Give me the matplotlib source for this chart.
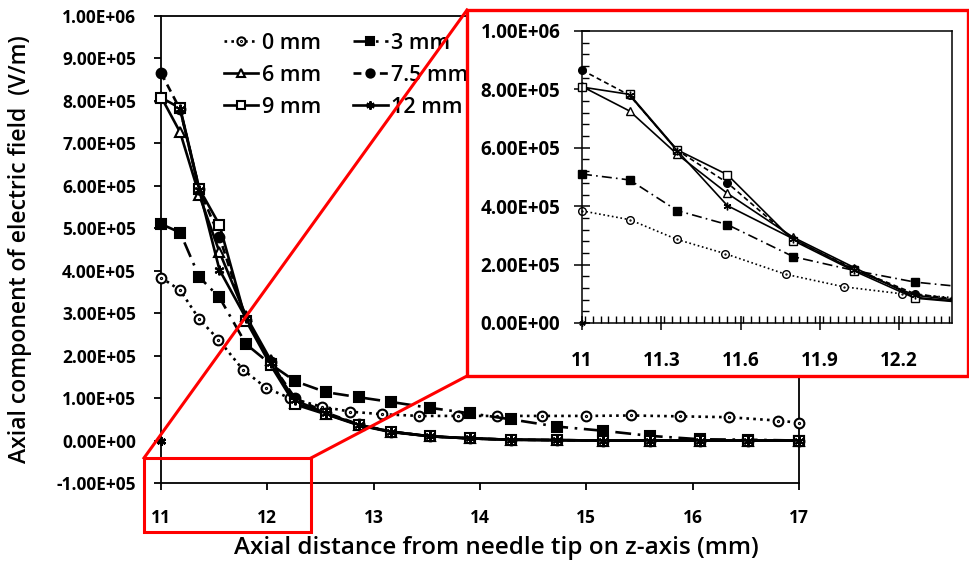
import numpy as np
import matplotlib.pyplot as plt
from matplotlib.path import Path
from matplotlib.patches import Rectangle
from matplotlib.lines import Line2D
from matplotlib.ticker import FuncFormatter, MultipleLocator

plt.rcParams['font.family'] = ['Open Sans', 'DejaVu Sans']
plt.rcParams['font.weight'] = 'bold'

# axial positions (mm); the 0 mm series was sampled at slightly different z
z_0mm = [11.0, 11.18, 11.36, 11.54, 11.77, 11.99, 12.21, 12.51, 12.78, 13.08,
         13.43, 13.79, 14.16, 14.58, 15.0, 15.42, 15.88, 16.34, 16.80, 17.0]
z = [11.0, 11.18, 11.36, 11.55, 11.8, 12.03, 12.26, 12.55, 12.86, 13.16,
     13.53, 13.91, 14.29, 14.72, 15.16, 15.6, 16.07, 16.52, 17.0]

# axial field (V/m)
e_0mm = np.array([3.84, 3.54, 2.86, 2.38, 1.67, 1.24, 1.00, 0.80, 0.68, 0.62,
                  0.58, 0.58, 0.58, 0.58, 0.58, 0.59, 0.57, 0.55, 0.47, 0.42]) * 1e5
e_3mm = np.array([5.10, 4.90, 3.85, 3.37, 2.27, 1.80, 1.40, 1.14, 1.02, 0.91,
                  0.77, 0.64, 0.50, 0.33, 0.23, 0.11, 0.03, 0.02, 0.0]) * 1e5
e_6mm = np.array([8.10, 7.26, 5.78, 4.44, 2.93, 1.90, 0.88, 0.63, 0.37, 0.21,
                  0.10, 0.05, 0.02, 0.01, 0.0, 0.0, 0.0, 0.0, 0.0]) * 1e5
e_7p5mm = np.array([8.66, 7.80, 5.92, 4.80, 2.85, 1.85, 1.00, 0.66, 0.38, 0.21,
                    0.10, 0.05, 0.02, 0.01, 0.0, 0.0, 0.0, 0.0, 0.0]) * 1e5
e_9mm = np.array([8.08, 7.83, 5.93, 5.08, 2.82, 1.78, 0.85, 0.62, 0.36, 0.20,
                  0.10, 0.05, 0.02, 0.01, 0.0, 0.0, 0.0, 0.0, 0.0]) * 1e5
e_12mm = np.array([0.0, 7.80, 5.90, 4.02, 2.88, 1.82, 0.95, 0.64, 0.37, 0.21,
                   0.10, 0.05, 0.02, 0.01, 0.0, 0.0, 0.0, 0.0, 0.0]) * 1e5

labels = ['0 mm', '3 mm', '6 mm', '7.5 mm', '9 mm', '12 mm']

# open circle with a dot in the middle
ring = Path.make_compound_path(Path.unit_circle(), Path.circle((0, 0), 0.12))
asterisk = (6, 2, 0)

series = [
    (z_0mm, e_0mm, (0, (1, 1.6)), ring, 'white'),
    (z, e_3mm, (0, (6, 2.5, 1, 2.5)), 's', 'black'),
    (z, e_6mm, '-', '^', 'white'),
    (z, e_7p5mm, (0, (3, 2)), 'o', 'black'),
    (z, e_9mm, '-', 's', 'white'),
    (z, e_12mm, '-', asterisk, 'black'),
]

fig = plt.figure(figsize=(9.7, 5.62), dpi=100)
ax = fig.add_axes([161/970, 1 - 483/562, 638/970, 467/562])

handles = []
for (x, y, ls, mk, fc), lab in zip(series, labels):
    x = np.asarray(x)
    if lab == '12 mm':
        # first point sits alone at zero, no connecting line
        ax.plot(x[:1], y[:1], ls='none', marker=mk, ms=6.5, mec='black',
                mew=1.8, color='black', clip_on=False, zorder=3)
        x, y = x[1:], y[1:]
    h, = ax.plot(x, y, ls=ls, color='black', lw=1.9, marker=mk, ms=7,
                 mfc=fc, mec='black', mew=1.5, clip_on=False, zorder=3,
                 label=lab)
    handles.append(h)

ax.set_xlim(11, 17)
ax.set_ylim(-1e5, 1e6)
ax.set_xticks(range(11, 18))
ax.set_yticks(np.arange(-1e5, 1.01e6, 1e5))
ax.yaxis.set_major_formatter(FuncFormatter(lambda v, p: f'{v:.2E}'))
ax.tick_params(axis='x', direction='out', length=5, width=1.3, pad=14,
               labelsize=12.5)
ax.tick_params(axis='y', direction='out', length=5, width=1.3, pad=13,
               labelsize=12.5)
for s in ax.spines.values():
    s.set_linewidth(1.3)

ax.set_xlabel('Axial distance from needle tip on z-axis (mm)', fontsize=17.5,
              fontweight='semibold', va='center')
ax.xaxis.set_label_coords(0.525, -0.139)
ax.set_ylabel('Axial component of electric field  (V/m)', fontsize=16.5,
              fontweight='semibold', va='center')
ax.yaxis.set_label_coords(-0.221, 0.5)

order = [0, 2, 4, 1, 3, 5]
ax.legend([handles[i] for i in order], [labels[i] for i in order], ncol=2,
          loc='upper left', bbox_to_anchor=(224/970, 1 - 33/562),
          bbox_transform=fig.transFigure, frameon=False,
          prop={'size': 15.5, 'weight': 'semibold'}, markerscale=0.85,
          handlelength=1.6, handletextpad=0.15, labelspacing=0.5,
          columnspacing=1.5, borderpad=0, borderaxespad=0)

# red zoom callout
red = '#ff0000'
fig.add_artist(Rectangle((144/970, 1 - 532/562), 167/970, 74/562,
                         transform=fig.transFigure, fill=False, ec=red,
                         lw=2.2, zorder=4))
fig.add_artist(Line2D([144/970, 467/970], [1 - 458/562, 1 - 10/562],
                      transform=fig.transFigure, color=red, lw=2.2, zorder=4))
fig.add_artist(Line2D([311/970, 467/970], [1 - 458/562, 1 - 376/562],
                      transform=fig.transFigure, color=red, lw=2.2, zorder=4))
fig.add_artist(Rectangle((467/970, 1 - 376/562), 501/970, 366/562,
                         transform=fig.transFigure, fc='white', ec=red,
                         lw=2.4, zorder=5))

# inset
ax2 = fig.add_axes([582/970, 1 - 323/562, 370/970, 292/562], zorder=6)
ax2.patch.set_alpha(0)
for (x, y, ls, mk, fc), lab in zip(series, labels):
    x = np.asarray(x)
    show = x <= 12.4
    if lab == '12 mm':
        ax2.plot(x[:1], y[:1], ls='none', marker=mk, ms=4.5, mec='black',
                 mew=1.0, clip_on=False)
        x, y, show = x[1:], y[1:], show[1:]
    ax2.plot(x, y, ls=ls, color='black', lw=1.2)
    ax2.plot(x[show], y[show], ls='none', marker=mk, ms=5.5, mfc=fc,
             mec='black', mew=1.0, clip_on=False)

ax2.set_xlim(11, 12.4)
ax2.set_ylim(0, 1e6)
ax2.set_xticks([11, 11.3, 11.6, 11.9, 12.2])
ax2.xaxis.set_minor_locator(MultipleLocator(0.03))
ax2.set_yticks(np.arange(0, 1.01e6, 2e5))
ax2.yaxis.set_minor_locator(MultipleLocator(4e4))
ax2.yaxis.set_major_formatter(FuncFormatter(lambda v, p: f'{v:.2E}'))
ax2.xaxis.set_major_formatter(FuncFormatter(lambda v, p: f'{v:g}'))
ax2.tick_params(axis='x', which='major', direction='inout', length=10,
                width=1.1, pad=15, labelsize=13.5)
ax2.tick_params(axis='y', which='major', direction='inout', length=11,
                width=1.1, pad=10, labelsize=13.5)
ax2.tick_params(which='minor', direction='in', length=5, width=1.0)
for s in ax2.spines.values():
    s.set_linewidth(1.1)

fig.savefig('out.png', dpi=100)
